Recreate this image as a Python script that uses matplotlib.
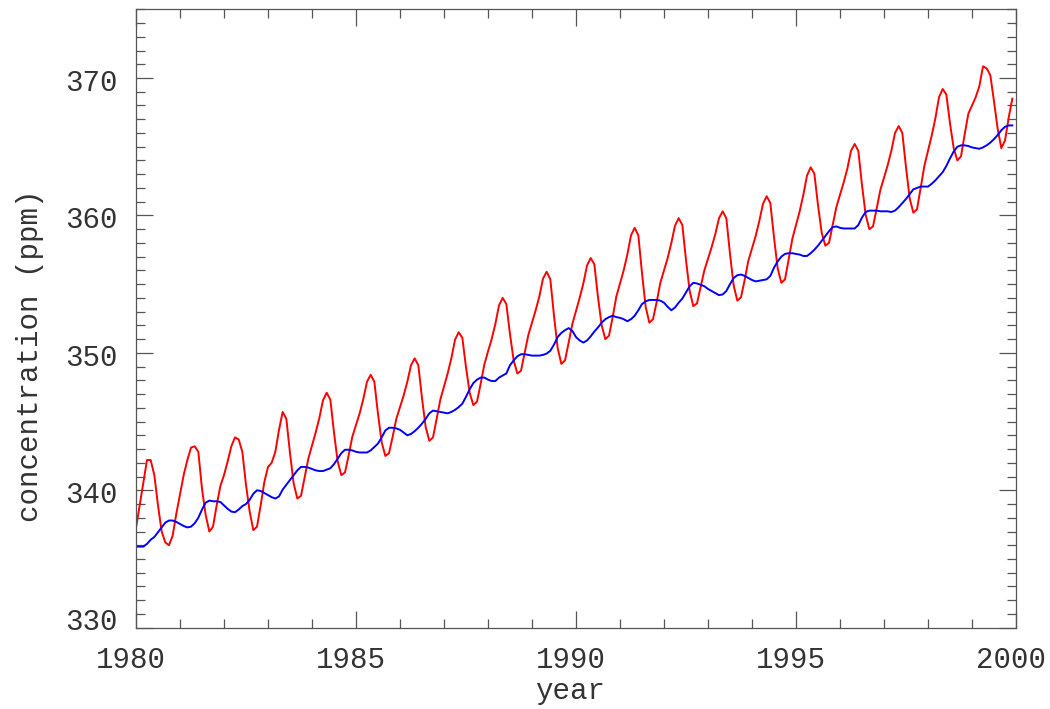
import numpy as np
import matplotlib
matplotlib.use("Agg")
import matplotlib.pyplot as plt
from matplotlib.ticker import MultipleLocator
import matplotlib.transforms as mtransforms

# Monthly values, Jan 1980 .. Dec 1999
red_ppm = [
    337.25, 338.9, 340.6, 342.2, 342.2, 341.1, 338.9, 337.0, 336.2, 336.0, 336.7, 338.3,
    339.7, 341.1, 342.2, 343.1, 343.2, 342.8, 340.1, 338.2, 337.0, 337.35, 338.9, 340.3,
    341.1, 342.1, 343.2, 343.85, 343.7, 342.8, 340.4, 338.45, 337.1, 337.35, 338.9, 340.6,
    341.7, 342.0, 342.8, 344.4, 345.7, 345.2, 342.7, 340.5, 339.4, 339.6, 340.95, 342.3,
    343.25, 344.2, 345.25, 346.55, 347.1, 346.6, 344.2, 342.1, 341.1, 341.3, 342.55, 343.9,
    344.75, 345.6, 346.65, 347.9, 348.4, 347.9, 345.55, 343.5, 342.5, 342.7, 343.9, 345.2,
    346.05, 346.9, 347.9, 349.1, 349.6, 349.1, 346.7, 344.6, 343.6, 343.85, 345.2, 346.6,
    347.55, 348.5, 349.6, 350.95, 351.5, 351.1, 348.95, 347.1, 346.2, 346.45, 347.75, 349.15,
    350.1, 351.0, 352.1, 353.45, 354.0, 353.55, 351.35, 349.45, 348.5, 348.7, 350.0, 351.3,
    352.2, 353.1, 354.1, 355.4, 355.9, 355.35, 352.7, 350.35, 349.2, 349.45, 350.75, 352.1,
    353.05, 354.0, 355.05, 356.35, 356.9, 356.45, 354.05, 352.0, 351.0, 351.25, 352.6, 354.1,
    355.05, 356.0, 357.15, 358.55, 359.1, 358.55, 355.8, 353.35, 352.2, 352.45, 353.7, 355.1,
    356.0, 356.9, 358.0, 359.25, 359.8, 359.3, 356.75, 354.5, 353.4, 353.6, 354.8, 356.0,
    356.85, 357.7, 358.65, 359.8, 360.3, 359.8, 357.2, 354.9, 353.8, 354.05, 355.3, 356.7,
    357.6, 358.5, 359.6, 360.85, 361.4, 360.9, 358.4, 356.15, 355.1, 355.35, 356.8, 358.3,
    359.3, 360.3, 361.5, 362.9, 363.5, 363.05, 360.75, 358.75, 357.8, 358.0, 359.3, 360.6,
    361.5, 362.4, 363.4, 364.7, 365.2, 364.7, 362.2, 360.05, 359.0, 359.2, 360.5, 361.85,
    362.75, 363.65, 364.7, 366.0, 366.5, 366.0, 363.5, 361.25, 360.2, 360.45, 362.0, 363.6,
    364.7, 365.8, 367.05, 368.6, 369.2, 368.8, 366.7, 364.9, 364.0, 364.3, 365.9, 367.4,
    368.0, 368.6, 369.4, 370.85, 370.7, 370.2, 368.3, 366.3, 364.9, 365.45, 367.1, 368.5,
]

blue_ppm = [
    335.9, 335.9, 335.9, 336.1, 336.4, 336.6, 336.95, 337.3, 337.65, 337.8, 337.8, 337.7,
    337.55, 337.4, 337.3, 337.35, 337.6, 338.0, 338.6, 339.1, 339.25, 339.2, 339.2, 339.15,
    338.9, 338.65, 338.45, 338.4, 338.6, 338.85, 339.0, 339.3, 339.75, 340.0, 339.95, 339.8,
    339.65, 339.5, 339.4, 339.55, 340.05, 340.4, 340.75, 341.1, 341.45, 341.7, 341.7, 341.65,
    341.55, 341.45, 341.4, 341.4, 341.5, 341.6, 341.9, 342.3, 342.7, 342.95, 342.95, 342.9,
    342.8, 342.75, 342.75, 342.75, 342.9, 343.15, 343.4, 343.85, 344.35, 344.55, 344.55, 344.5,
    344.4, 344.2, 344.0, 344.1, 344.3, 344.55, 344.85, 345.2, 345.6, 345.8, 345.75, 345.7,
    345.65, 345.6, 345.7, 345.85, 346.05, 346.3, 346.8, 347.35, 347.8, 348.05, 348.2, 348.2,
    348.05, 347.95, 347.95, 348.2, 348.35, 348.5, 349.1, 349.45, 349.75, 349.9, 349.9, 349.85,
    349.8, 349.8, 349.8, 349.85, 349.95, 350.15, 350.6, 351.15, 351.45, 351.65, 351.8, 351.6,
    351.15, 350.9, 350.75, 350.9, 351.2, 351.55, 351.85, 352.2, 352.45, 352.6, 352.7, 352.6,
    352.55, 352.45, 352.3, 352.45, 352.7, 353.1, 353.55, 353.75, 353.85, 353.85, 353.85, 353.8,
    353.65, 353.35, 353.1, 353.3, 353.65, 353.95, 354.4, 354.85, 355.1, 355.05, 354.95, 354.85,
    354.65, 354.5, 354.35, 354.2, 354.25, 354.5, 355.0, 355.45, 355.65, 355.7, 355.6, 355.45,
    355.3, 355.2, 355.25, 355.3, 355.35, 355.6, 356.2, 356.65, 357.0, 357.2, 357.25, 357.25,
    357.2, 357.15, 357.05, 357.05, 357.25, 357.5, 357.8, 358.15, 358.5, 358.85, 359.15, 359.2,
    359.1, 359.05, 359.05, 359.05, 359.05, 359.3, 359.85, 360.25, 360.35, 360.35, 360.35, 360.3,
    360.3, 360.3, 360.25, 360.35, 360.6, 360.9, 361.2, 361.55, 361.9, 362.0, 362.1, 362.1,
    362.1, 362.3, 362.55, 362.85, 363.15, 363.6, 364.15, 364.65, 365.0, 365.1, 365.1, 365.05,
    364.95, 364.9, 364.85, 364.95, 365.1, 365.3, 365.55, 365.85, 366.2, 366.45, 366.55, 366.55,
]

start_year = 1980
x_ticks = [1980, 1985, 1990, 1995, 2000]
y_ticks = [330, 340, 350, 360, 370]
x_label = "year"
y_label = "concentration (ppm)"

years = start_year + np.arange(len(red_ppm)) / 12.0

FONT = ["Liberation Mono", "DejaVu Sans Mono"]
TEXT_COLOR = "#333333"
AX_COLOR = "#555555"

fig = plt.figure(figsize=(10.5, 7.09), dpi=100)
ax = fig.add_axes([136 / 1050, 1 - 627.7 / 709, 880 / 1050, (627.7 - 9.3) / 709])

ax.plot(years, red_ppm, color="#ff0000", lw=1.4)
ax.plot(years, blue_ppm, color="#0000ff", lw=1.4)

ax.set_xlim(1980, 2000)
ax.set_ylim(330, 375)
ax.set_xticks(x_ticks)
ax.set_yticks(y_ticks)
ax.xaxis.set_minor_locator(MultipleLocator(1))
ax.yaxis.set_minor_locator(MultipleLocator(1))

for s in ax.spines.values():
    s.set_color(AX_COLOR)
    s.set_linewidth(0.9)

ax.tick_params(which="both", direction="in", top=True, right=True,
               color=AX_COLOR, width=0.9)
ax.tick_params(which="major", length=12.5)
ax.tick_params(which="minor", length=6.5)
ax.tick_params(axis="x", which="major", pad=13, labelsize=21, labelcolor=TEXT_COLOR)
ax.tick_params(axis="y", which="major", pad=13, labelsize=21, labelcolor=TEXT_COLOR)

for lab in ax.get_xticklabels() + ax.get_yticklabels():
    lab.set_family(FONT)

# small label offsets as in the reference
for lab in ax.get_xticklabels():
    lab.set_transform(lab.get_transform() + mtransforms.ScaledTranslation(-5 / 100, 0, fig.dpi_scale_trans))
for lab in ax.get_yticklabels():
    dy = -2 / 100
    if lab.get_text() == "330":
        dy = 9 / 100
    lab.set_transform(lab.get_transform() + mtransforms.ScaledTranslation(0, dy, fig.dpi_scale_trans))

fig.text(570 / 1050, 1 - 691 / 709, x_label, ha="center", va="center",
         fontsize=21, family=FONT, color=TEXT_COLOR)
fig.text(30 / 1050, 1 - 356 / 709, y_label, ha="center", va="center",
         rotation=90, fontsize=21, family=FONT, color=TEXT_COLOR)

fig.savefig("out.png", dpi=100)
